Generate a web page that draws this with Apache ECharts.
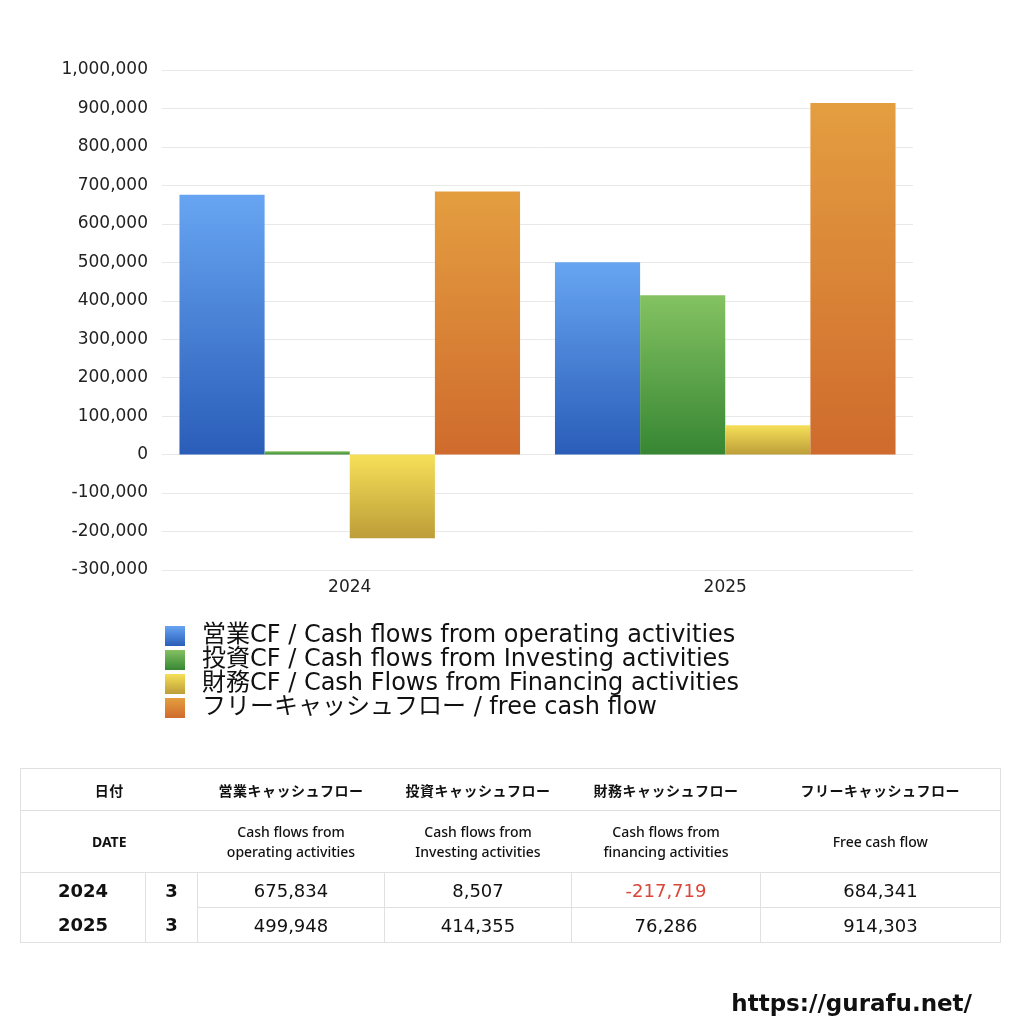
<!DOCTYPE html>
<html><head><meta charset="utf-8">
<script src="https://cdn.jsdelivr.net/npm/echarts@6/dist/echarts.min.js"></script>
<style>
html,body{margin:0;padding:0;background:#fff;}
#chart{position:absolute;left:0;top:0;width:1024px;height:1024px;}
#tbl{position:absolute;left:20px;top:768px;width:980px;border-collapse:collapse;table-layout:fixed;
 font-family:"Noto Sans","Noto Sans CJK JP",sans-serif;color:#111;border:1px solid #e0e0e0;}
#tbl td{padding:0;text-align:center;vertical-align:middle;}
.h1 td{height:41px;font-size:14px;font-weight:bold;border-bottom:1px solid #e0e0e0;font-family:"Noto Sans CJK JP",sans-serif;letter-spacing:0.5px;}
.h2 td{height:61px;font-size:14px;font-weight:500;line-height:20px;border-bottom:1px solid #e0e0e0;}
.d td{height:34px;font-size:18px;font-family:"DejaVu Sans",sans-serif;}
.d td.y{font-weight:bold;}
.d td.v{border-left:1px solid #e0e0e0;}
.d td.m{border-left:1px solid #e0e0e0;font-weight:bold;}
.r1 td.v{border-bottom:1px solid #e0e0e0;}
.neg{color:#d9463a;}
</style>
</head><body>
<div id="chart"></div>
<table id="tbl"></table>
<script>
const categories = ['2024', '2025'];
const months = ['3', '3'];
const operatingCF = [675834, 499948];
const investingCF = [8507, 414355];
const financingCF = [-217719, 76286];
const freeCF = [684341, 914303];
const seriesNames = [
  '営業CF / Cash flows from operating activities',
  '投資CF / Cash flows from Investing activities',
  '財務CF / Cash Flows from Financing activities',
  'フリーキャッシュフロー / free cash flow'
];
const headerJa = ['営業キャッシュフロー', '投資キャッシュフロー', '財務キャッシュフロー', 'フリーキャッシュフロー'];
const headerEn = ['Cash flows from<br>operating activities', 'Cash flows from<br>Investing activities', 'Cash flows from<br>financing activities', 'Free cash flow'];

const axisFont = '"DejaVu Sans","Noto Sans CJK JP",sans-serif';
const legendFont = '"DejaVu Sans","Noto Sans CJK JP",sans-serif';
function grad(top, bottom) {
  return new echarts.graphic.LinearGradient(0, 0, 0, 1, [{offset: 0, color: top}, {offset: 1, color: bottom}]);
}
const colors = [
  grad('#67a5f2', '#2a5db8'),
  grad('#84c262', '#378633'),
  grad('#f6e058', '#bc9d38'),
  grad('#e49e40', '#cf6b2d')
];
const dataSets = [operatingCF, investingCF, financingCF, freeCF];

const chart = echarts.init(document.getElementById('chart'));
chart.setOption({
  animation: false,
  backgroundColor: '#fff',
  textStyle: {fontFamily: axisFont},
  grid: {left: 162, right: 111, top: 70, bottom: 454},
  legend: {
    orient: 'vertical', left: 160, top: 619,
    itemWidth: 20, itemHeight: 20, itemGap: 0,
    icon: 'rect',
    textStyle: {fontSize: 24, color: '#111', fontFamily: legendFont, fontWeight: 'normal', padding: [0, 0, 0, 12]},
    data: seriesNames
  },
  xAxis: {
    type: 'category', data: categories,
    axisLine: {show: false}, axisTick: {show: false},
    axisLabel: {fontSize: 17, color: '#222', margin: 9, fontFamily: axisFont}
  },
  yAxis: {
    type: 'value', min: -300000, max: 1000000, interval: 100000,
    axisLine: {show: false}, axisTick: {show: false},
    splitLine: {lineStyle: {color: '#e8e8e8'}},
    axisLabel: {fontSize: 17, color: '#222', margin: 14, fontFamily: axisFont,
      formatter: v => v.toLocaleString('en-US')}
  },
  series: seriesNames.map((n, i) => ({
    name: n, type: 'bar', data: dataSets[i],
    itemStyle: {color: colors[i]},
    barGap: '0%', barCategoryGap: '9.3%'
  })),
  graphic: [{
    type: 'text', right: 52, top: 994,
    style: {text: 'https://gurafu.net/', font: 'bold 23px "DejaVu Sans", sans-serif', fill: '#111'}
  }]
});

const fmt = v => v.toLocaleString('en-US');
let html = '<colgroup><col style="width:125px"><col style="width:52px"><col style="width:187px"><col style="width:187px"><col style="width:189px"><col style="width:240px"></colgroup>';
html += '<tr class="h1"><td colspan="2">日付</td>' + headerJa.map(h => '<td>' + h + '</td>').join('') + '</tr>';
html += '<tr class="h2"><td colspan="2" style="font-weight:bold">DATE</td>' + headerEn.map(h => '<td>' + h + '</td>').join('') + '</tr>';
categories.forEach((c, r) => {
  html += '<tr class="d r' + (r + 1) + '"><td class="y">' + c + '</td><td class="m">' + months[r] + '</td>' +
    dataSets.map(ds => '<td class="v' + (ds[r] < 0 ? ' neg' : '') + '">' + fmt(ds[r]) + '</td>').join('') + '</tr>';
});
document.getElementById('tbl').innerHTML = html;
</script>
</body></html>
